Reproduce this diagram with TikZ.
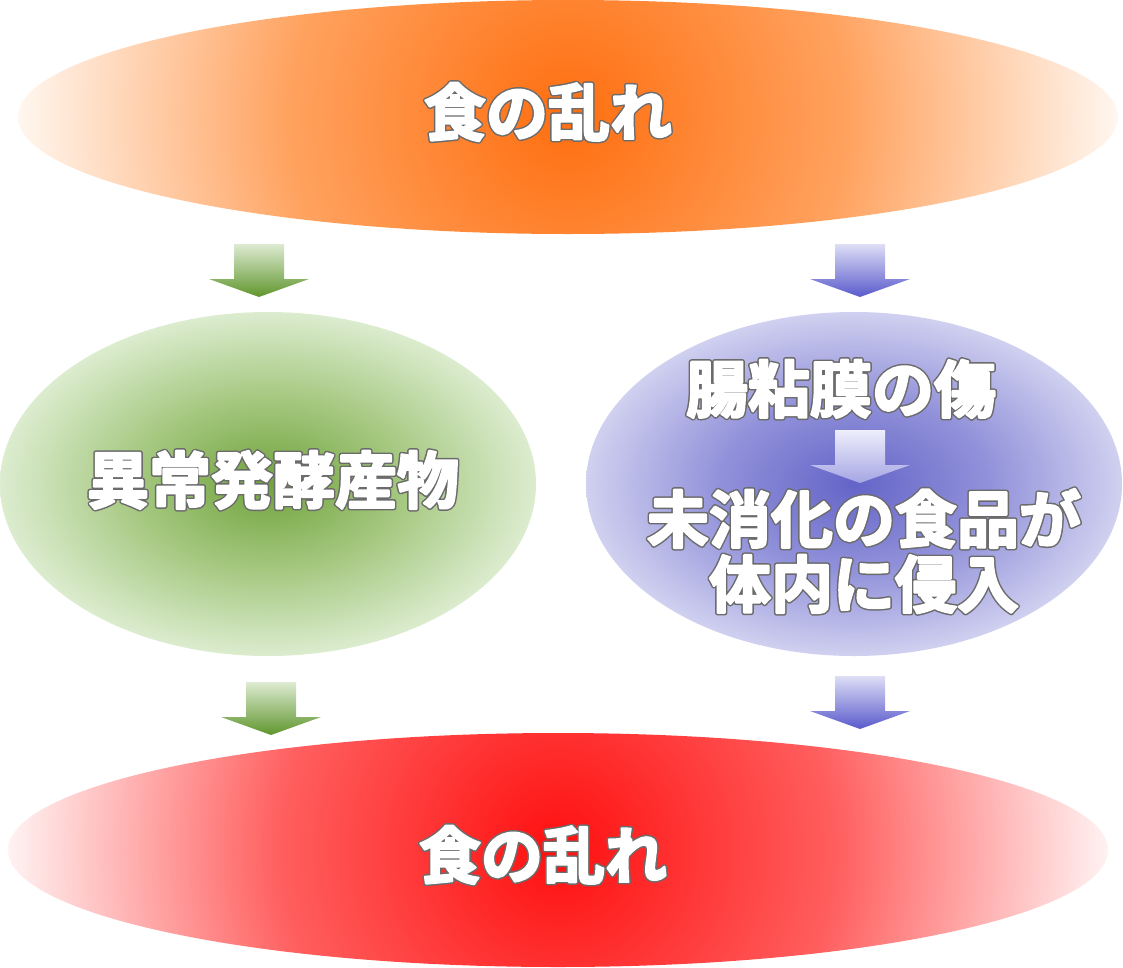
\documentclass[tikz,border=0pt]{standalone}
\usepackage{fontspec}
\newfontfamily\jp{Noto Sans CJK JP}[BoldFont={* Bold}]
\definecolor{or0}{RGB}{255,110,15}
\definecolor{or1}{RGB}{255,162,95}
\definecolor{or2}{RGB}{255,250,245}
\definecolor{rd0}{RGB}{255,15,15}
\definecolor{rd1}{RGB}{255,95,95}
\definecolor{rd2}{RGB}{255,248,248}
\definecolor{gr0}{RGB}{112,163,60}
\definecolor{gr1}{RGB}{165,200,128}
\definecolor{gr2}{RGB}{220,236,207}
\definecolor{bl0}{RGB}{100,100,200}
\definecolor{bl1}{RGB}{145,145,218}
\definecolor{bl2}{RGB}{208,208,240}
\pgfdeclareradialshading{orgR}{\pgfpoint{0bp}{0bp}}{color(0bp)=(or0); color(12.5bp)=(or1); color(25bp)=(or2); color(50bp)=(or2)}
\pgfdeclareradialshading{redR}{\pgfpoint{0bp}{0bp}}{color(0bp)=(rd0); color(12.5bp)=(rd1); color(25bp)=(rd2); color(50bp)=(rd2)}
\pgfdeclareradialshading{grnR}{\pgfpoint{0bp}{0bp}}{color(0bp)=(gr0); color(12.5bp)=(gr1); color(25bp)=(gr2); color(50bp)=(gr2)}
\pgfdeclareradialshading{bluR}{\pgfpoint{0bp}{0bp}}{color(0bp)=(bl0); color(12.5bp)=(bl1); color(25bp)=(bl2); color(50bp)=(bl2)}
% outlined heavy text: a wide grey stroke, then a white fill+stroke on top
\newcommand\outl[1]{%
  \rlap{\special{pdf:literal direct 2 Tr 5.2 w 1 J 1 j 0.42 0.42 0.42 RG}#1\special{pdf:literal direct 0 Tr 0.4 w 0 J 0 j}}%
  \special{pdf:literal direct 2 Tr 2.2 w 1 J 1 j 1 1 1 RG}#1\special{pdf:literal direct 0 Tr 0.4 w 0 J 0 j}}
\tikzset{
  lab/.style={inner sep=0pt, align=center, text=white, font=\jp\bfseries\fontsize{62bp}{65bp}\selectfont},
  greenarr/.style={top color={rgb,255:red,222;green,235;blue,210}, bottom color={rgb,255:red,95;green,150;blue,45}},
  bluearr/.style={top color={rgb,255:red,222;green,222;blue,246}, bottom color={rgb,255:red,90;green,90;blue,205}},
  innerarr/.style={top color={rgb,255:red,238;green,238;blue,252}, bottom color={rgb,255:red,165;green,165;blue,228}},
}
\newcommand\blockarr[4]{% x, ytop, style, shaft length
  \path[#3] ({#1-25},{#2}) -- ({#1+25},{#2}) -- ({#1+25},{#2+#4}) -- ({#1+50},{#2+#4})
    -- ({#1},{#2+#4+18}) -- ({#1-50},{#2+#4}) -- ({#1-25},{#2+#4}) -- cycle;}
\begin{document}
\begin{tikzpicture}[x=1bp,y=-1bp]
\useasboundingbox (0,0) rectangle (1123,968);
% top ellipse
\coordinate (topc) at (568,117);
\begin{scope}
  \clip (topc) ellipse [x radius=550, y radius=117];
  \shade[shading=orgR] (topc) circle (560);
\end{scope}
% bottom ellipse
\coordinate (botc) at (558,850);
\begin{scope}
  \clip (botc) ellipse [x radius=550, y radius=117];
  \shade[shading=redR] (botc) circle (560);
\end{scope}
% green ellipse
\coordinate (grc) at (268,484);
\shade[shading=grnR] (grc) ellipse [x radius=268, y radius=172];
% blue ellipse
\coordinate (blc) at (854,484);
\shade[shading=bluR] (blc) ellipse [x radius=268, y radius=172];
% arrows
\blockarr{259}{244}{greenarr}{35}
\blockarr{860}{244}{bluearr}{35}
\blockarr{271}{682}{greenarr}{35}
\blockarr{860}{676}{bluearr}{35}
\blockarr{860}{430}{innerarr}{35}
% texts
\node[lab] (t1) at (548,112) {\outl{食の乱れ}};
\node[lab] (t2) at (273,480) {\outl{異常発酵産物}};
\node[lab] (t3) at (841,389) {\outl{腸粘膜の傷}};
\node[lab] (t4) at (864,551) {\outl{未消化の食品が}\\\outl{体内に侵入}};
\node[lab] (t5) at (543,855) {\outl{食の乱れ}};
\end{tikzpicture}
\end{document}
